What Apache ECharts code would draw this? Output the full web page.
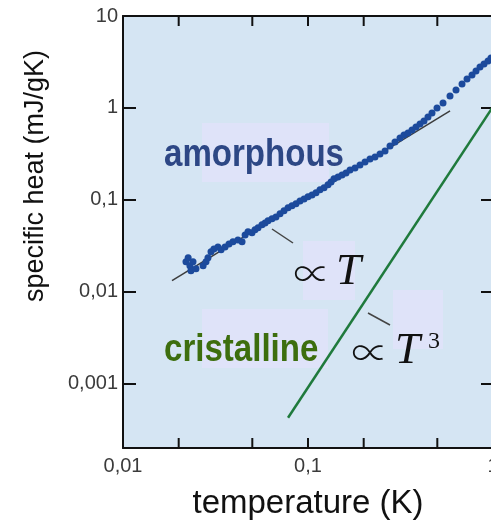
<!DOCTYPE html>
<html>
<head>
<meta charset="utf-8">
<title>specific heat</title>
<script src="https://cdn.jsdelivr.net/npm/echarts@6/dist/echarts.min.js"></script>
<style>
  html, body { margin: 0; padding: 0; background: #fff; }
  #chart { width: 491px; height: 521px; }
</style>
</head>
<body>
<div id="chart"></div>
<script>
// amorphous sample: temperature (K) / specific heat (mJ/gK)
var amorphT = [0.0219, 0.0225, 0.0230, 0.0233, 0.0239, 0.0248, 0.0271, 0.0281, 0.0288, 0.0299,
  0.0310, 0.0326, 0.0339, 0.0356, 0.0374, 0.0393, 0.0418, 0.0440, 0.0457, 0.0474,
  0.0498, 0.0517, 0.0537, 0.0564, 0.0586, 0.0608, 0.0639, 0.0671, 0.0706, 0.0742,
  0.0780, 0.0819, 0.0861, 0.0905, 0.0952, 0.1000, 0.1051, 0.1105, 0.1161, 0.1221,
  0.1283, 0.1332, 0.1382, 0.1453, 0.1527, 0.1605, 0.1687, 0.1795, 0.1910, 0.2033,
  0.2163, 0.2302, 0.2450, 0.2608, 0.2775, 0.2953, 0.3143, 0.3303, 0.3471, 0.3649,
  0.3835, 0.4031, 0.4236, 0.4452, 0.4680, 0.4981, 0.5368, 0.5856, 0.6310, 0.6800,
  0.7237, 0.7701, 0.8093, 0.8506, 0.8942, 0.9398, 0.9754];
var amorphC = [0.0212, 0.0234, 0.0192, 0.0169, 0.0212, 0.0178, 0.0192, 0.0212, 0.0234, 0.0272,
  0.0293, 0.0308, 0.0286, 0.0308, 0.0332, 0.0350, 0.0367, 0.0350, 0.0416, 0.0449,
  0.0438, 0.0472, 0.0496, 0.0535, 0.0562, 0.0591, 0.0622, 0.0653, 0.0705, 0.0760,
  0.0819, 0.0861, 0.0905, 0.0975, 0.1025, 0.1078, 0.1133, 0.1192, 0.1285, 0.1351,
  0.1456, 0.1569, 0.1692, 0.1778, 0.1869, 0.1965, 0.2119, 0.2228, 0.2402, 0.2588,
  0.2791, 0.2934, 0.3162, 0.3409, 0.3864, 0.4270, 0.4719, 0.5087, 0.5350, 0.5767,
  0.6215, 0.6700, 0.7223, 0.7985, 0.8825, 1.000, 1.133, 1.351, 1.569, 1.823,
  2.066, 2.284, 2.525, 2.791, 3.008, 3.243, 3.495];

// guide line "∝ T"
var linT = [0.0184, 0.586];
var linC = [0.0132, 0.928];
// cristalline, "∝ T^3"
var crystT = [0.078, 1];
var crystC = [0.000427, 1.03];

var xMin = 0.01, xMax = 1;
var yMin = 0.0002, yMax = 10;
var xTicks = [0.02, 0.05, 0.1, 0.2, 0.5];
var xLabelValues = [0.01, 0.1, 1];
var xTickLabels = ['0,01', '0,1', '1'];
var yLabelValues = [0.001, 0.01, 0.1, 1, 10];
var yTickLabels = ['0,001', '0,01', '0,1', '1', '10'];

function pick(values, labels, v) {
  for (var i = 0; i < values.length; i++) {
    if (Math.abs(Math.log10(v) - Math.log10(values[i])) < 1e-6) return labels[i];
  }
  return '';
}

function pairs(a, b) {
  return a.map(function (t, i) { return [t, b[i]]; });
}

var axisColor = '#111';
var labelFont = '"Liberation Sans", Arial, sans-serif';
var boxFill = '#dfe3f9';
var propFont = '300 37px "Noto Sans CJK SC", "DejaVu Serif", serif';
var italicFont = 'italic 45px "Liberation Serif", "Times New Roman", serif';

var chart = echarts.init(document.getElementById('chart'));
var option = {
  animation: false,
  grid: {
    left: 123, top: 16, width: 370, height: 432,
    show: true, backgroundColor: '#d5e5f3', borderWidth: 0,
    outerBoundsMode: 'none'
  },
  xAxis: [
    {
      type: 'log', position: 'bottom', min: xMin, max: xMax,
      axisLine: { lineStyle: { color: axisColor, width: 2 } },
      axisTick: { show: false },
      axisLabel: {
        formatter: function (v) { return pick(xLabelValues, xTickLabels, v); },
        fontFamily: labelFont, fontSize: 20, color: '#3b3b3b', margin: 8
      },
      splitLine: { show: false },
      name: 'temperature (K)', nameLocation: 'middle', nameGap: 39,
      nameTextStyle: { fontSize: 33, color: axisColor, fontFamily: labelFont }
    },
    {
      type: 'log', position: 'top', min: xMin, max: xMax,
      axisLine: { lineStyle: { color: axisColor, width: 2 } },
      axisTick: { show: false },
      axisLabel: { show: false },
      splitLine: { show: false }
    }
  ],
  yAxis: [
    {
      type: 'log', position: 'left', min: yMin, max: yMax,
      axisLine: { lineStyle: { color: axisColor, width: 2 } },
      axisTick: { inside: true, length: 13, lineStyle: { color: axisColor, width: 2 } },
      axisLabel: {
        showMinLabel: false,
        formatter: function (v) { return pick(yLabelValues, yTickLabels, v); },
        fontFamily: labelFont, fontSize: 20, color: '#3b3b3b', margin: 5
      },
      splitLine: { show: false }
    },
    {
      type: 'log', position: 'right', min: yMin, max: yMax,
      axisLine: { lineStyle: { color: axisColor, width: 2 } },
      axisTick: { inside: true, length: 12, lineStyle: { color: axisColor, width: 2 } },
      axisLabel: { show: false },
      splitLine: { show: false }
    }
  ],
  series: [
    {
      // 1-2-5 ticks on the bottom and top temperature axes
      type: 'custom', silent: true, clip: false, z: 4,
      data: xTicks.map(function (v) { return [v, yMin]; }),
      renderItem: function (params, api) {
        var x = api.coord([api.value(0), yMin])[0];
        var bottom = api.coord([api.value(0), yMin])[1];
        var top = api.coord([api.value(0), yMax])[1];
        var st = { stroke: axisColor, lineWidth: 2 };
        return {
          type: 'group',
          children: [
            { type: 'line', shape: { x1: x, y1: bottom, x2: x, y2: bottom - 10 }, style: st },
            { type: 'line', shape: { x1: x, y1: top, x2: x, y2: top + 10 }, style: st }
          ]
        };
      }
    },
    {
      type: 'line', data: pairs(linT, linC), symbol: 'none', z: 2,
      lineStyle: { color: '#3c3c3c', width: 1.5 }
    },
    {
      type: 'scatter', data: pairs(amorphT, amorphC), symbolSize: 7, z: 3,
      itemStyle: { color: '#1c4a9c', opacity: 1 }
    },
    {
      type: 'line', data: pairs(crystT, crystC), symbol: 'none', z: 3,
      lineStyle: { color: '#1f7a3c', width: 2.5 }
    }
  ],
  graphic: [
    { type: 'rect', z: 1, silent: true, shape: { x: 202, y: 123, width: 127, height: 59 }, style: { fill: boxFill } },
    { type: 'rect', z: 1, silent: true, shape: { x: 202, y: 309, width: 126, height: 59 }, style: { fill: boxFill } },
    { type: 'rect', z: 1, silent: true, shape: { x: 303, y: 241, width: 52, height: 59 }, style: { fill: boxFill } },
    { type: 'rect', z: 1, silent: true, shape: { x: 393, y: 290, width: 50, height: 59 }, style: { fill: boxFill } },
    {
      type: 'text', z: 5, x: 164, y: 156, scaleX: 0.87,
      style: { text: 'amorphous', font: 'bold 38px "Liberation Sans", Arial, sans-serif', fill: '#2d4785', verticalAlign: 'middle', textVerticalAlign: 'middle' }
    },
    {
      type: 'text', z: 5, x: 164, y: 351, scaleX: 0.87,
      style: { text: 'cristalline', font: 'bold 38px "Liberation Sans", Arial, sans-serif', fill: '#3d6e0e', verticalAlign: 'middle', textVerticalAlign: 'middle' }
    },
    {
      type: 'text', z: 5, x: 312, y: 274,
      style: { text: '∝', font: propFont, fill: '#111', align: 'center', textAlign: 'center', verticalAlign: 'middle', textVerticalAlign: 'middle' }
    },
    {
      type: 'text', z: 5, x: 336, y: 272,
      style: { text: 'T', font: italicFont, fill: '#111', verticalAlign: 'middle', textVerticalAlign: 'middle' }
    },
    {
      type: 'text', z: 5, x: 370, y: 353,
      style: { text: '∝', font: propFont, fill: '#111', align: 'center', textAlign: 'center', verticalAlign: 'middle', textVerticalAlign: 'middle' }
    },
    {
      type: 'text', z: 5, x: 395, y: 351,
      style: { text: 'T', font: italicFont, fill: '#111', verticalAlign: 'middle', textVerticalAlign: 'middle' }
    },
    {
      type: 'text', z: 5, x: 428, y: 342,
      style: { text: '3', font: '24px "Liberation Serif", "Times New Roman", serif', fill: '#111', verticalAlign: 'middle', textVerticalAlign: 'middle' }
    },
    { type: 'line', z: 5, silent: true, shape: { x1: 272, y1: 229, x2: 293, y2: 243 }, style: { stroke: '#444', lineWidth: 1.5 } },
    { type: 'line', z: 5, silent: true, shape: { x1: 368, y1: 313, x2: 390, y2: 325 }, style: { stroke: '#444', lineWidth: 1.5 } },
    {
      type: 'text', z: 5, x: 36, y: 176, rotation: Math.PI / 2,
      style: { text: 'specific heat (mJ/gK)', font: '27px "Liberation Sans", Arial, sans-serif', fill: '#111', align: 'center', textAlign: 'center', verticalAlign: 'middle', textVerticalAlign: 'middle' }
    }
  ]
};
chart.setOption(option);
</script>
</body>
</html>
